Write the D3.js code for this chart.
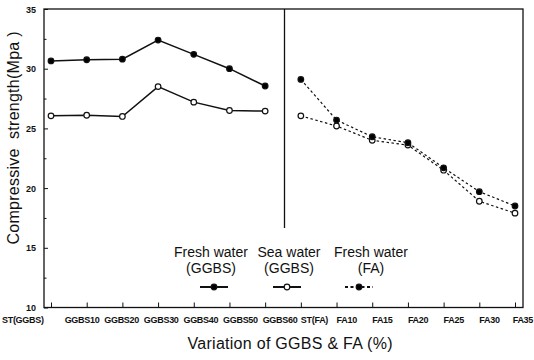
<!DOCTYPE html>
<html><head><meta charset="utf-8">
<script src="https://cdn.jsdelivr.net/npm/d3@7"></script>
<style>body{margin:0;background:#fff}svg{display:block;font-family:Arial,"Liberation Sans",sans-serif}</style>
</head><body><svg id="c" width="534" height="360"></svg>
<script>
const categories = ["ST(GGBS)","GGBS10","GGBS20","GGBS30","GGBS40","GGBS50","GGBS60","ST(FA)","FA10","FA15","FA20","FA25","FA30","FA35"];
const ggbsCats = categories.slice(0,7);
const faCats = categories.slice(7);
const freshGGBS = [30.65, 30.75, 30.8, 32.4, 31.2, 30.0, 28.55];
const seaGGBS = [26.05, 26.1, 26.0, 28.5, 27.2, 26.5, 26.45];
const freshFA = [29.1, 25.7, 24.3, 23.8, 21.7, 19.7, 18.5];
const seaFA = [26.05, 25.2, 24.0, 23.6, 21.5, 18.9, 17.9];
const yTicks = [10,15,20,25,30,35];
const legendItems = [
  {l1:"Fresh water", l2:"(GGBS)", dash:null, fill:"#000"},
  {l1:"Sea water", l2:"(GGBS)", dash:null, fill:"#fff"},
  {l1:"Fresh water", l2:"(FA)", dash:"3,2.5", fill:"#000"}
];

const svg = d3.select("#c");
const L=44, R=523, T=9, B=307.5;
const x = d3.scalePoint().domain(categories).range([51,515]);
const y = d3.scaleLinear().domain([10,35]).range([B,T]);
const ink = "#111";

// frame
svg.append("rect").attr("x",L).attr("y",T).attr("width",R-L).attr("height",B-T)
  .attr("fill","none").attr("stroke",ink).attr("stroke-width",1.3);

// y axis
const yAx = svg.append("g").attr("transform",`translate(${L},0)`)
  .call(d3.axisLeft(y).tickValues(yTicks).tickSize(-4).tickPadding(8).tickFormat(d3.format("d")));
yAx.select(".domain").remove();
yAx.selectAll("line").attr("stroke",ink);
yAx.selectAll("text").attr("font-size",9).attr("fill",ink).attr("font-weight","bold").attr("dy","0.35em");
const yMinor = svg.append("g").attr("transform",`translate(${L},0)`)
  .call(d3.axisLeft(y).tickValues([12.5,17.5,22.5,27.5,32.5]).tickSize(-2.5).tickFormat(""));
yMinor.select(".domain").remove();
yMinor.selectAll("line").attr("stroke",ink);

// x axis ticks
const xAx = svg.append("g").attr("transform",`translate(0,${B})`)
  .call(d3.axisBottom(x).tickSize(-5).tickFormat(""));
xAx.select(".domain").remove();
xAx.selectAll("line").attr("stroke",ink);

// x tick labels
const gLab = d3.scaleLinear().domain([1,6]).range([82,280]);
const n = categories.length;
svg.append("g").selectAll("text").data(categories).join("text")
  .attr("x",(d,i)=> i===0 ? 2 : (i===n-1 ? 533 : (i<7 ? gLab(i) : x(d))))
  .attr("text-anchor",(d,i)=> i===n-1 ? "end" : (i===0 || i>=7 ? "start" : "middle"))
  .attr("y",323).attr("font-size",9).attr("font-weight","bold").attr("fill",ink)
  .attr("letter-spacing",-0.3)
  .text(d=>d);

// divider
svg.append("line").attr("x1",284.5).attr("x2",284.5).attr("y1",T).attr("y2",228)
  .attr("stroke",ink).attr("stroke-width",1.3);

// series
function drawSeries(cats, vals, dash, fill){
  const data = cats.map((c,i)=>({c, v:vals[i]}));
  svg.append("path").datum(data)
    .attr("d", d3.line().x(d=>x(d.c)).y(d=>y(d.v)))
    .attr("fill","none").attr("stroke",ink).attr("stroke-width",dash?1.2:1.5)
    .attr("stroke-dasharray",dash);
  svg.append("g").selectAll("circle").data(data).join("circle")
    .attr("cx",d=>x(d.c)).attr("cy",d=>y(d.v)).attr("r",2.8)
    .attr("fill",fill).attr("stroke",ink).attr("stroke-width",1.2);
}
drawSeries(ggbsCats, freshGGBS, null, "#000");
drawSeries(ggbsCats, seaGGBS, null, "#fff");
drawSeries(faCats, seaFA, "2.5,2.5", "#fff");
drawSeries(faCats, freshFA, "2.5,2.5", "#000");

// legend
const legTextX = [211, 289, 371];
const legSymX = [214, 287, 359];
const lg = svg.append("g").selectAll("g").data(legendItems).join("g");
lg.append("text").attr("x",(d,i)=>legTextX[i]).attr("y",257).attr("text-anchor","middle").attr("font-size",14).attr("fill",ink).text(d=>d.l1);
lg.append("text").attr("x",(d,i)=>legTextX[i]).attr("y",273).attr("text-anchor","middle").attr("font-size",14).attr("fill",ink).text(d=>d.l2);
lg.append("line").attr("x1",(d,i)=>legSymX[i]-14).attr("x2",(d,i)=>legSymX[i]+14).attr("y1",287).attr("y2",287)
  .attr("stroke",ink).attr("stroke-width",2).attr("stroke-dasharray",d=>d.dash);
lg.append("circle").attr("cx",(d,i)=>legSymX[i]).attr("cy",287).attr("r",2.8)
  .attr("fill",d=>d.fill).attr("stroke",ink).attr("stroke-width",1.2);

// axis titles
svg.append("text").attr("x",290).attr("y",349).attr("text-anchor","middle")
  .attr("font-size",16).attr("fill",ink).attr("textLength",205).attr("lengthAdjust","spacing")
  .text("Variation of GGBS & FA (%)");
svg.append("text").attr("transform","translate(19,138) rotate(-90)").attr("text-anchor","middle")
  .attr("font-size",16).attr("fill",ink).style("white-space","pre")
  .attr("textLength",213).attr("lengthAdjust","spacing")
  .text("Compressive  strength(Mpa )");
</script></body></html>
